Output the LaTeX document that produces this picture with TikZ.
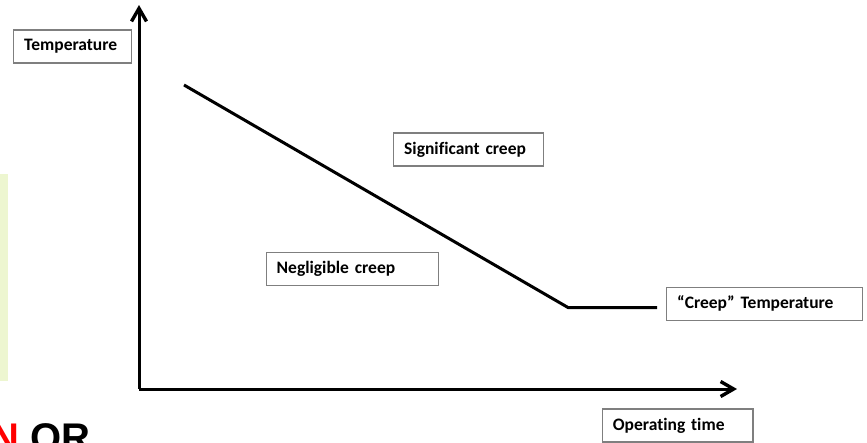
\documentclass[tikz,border=0pt]{standalone}
\usepackage{fontspec}
\setmainfont{Carlito}[Ligatures={NoCommon}]
\newfontfamily\arialfont{Liberation Sans}
\usetikzlibrary{arrows.meta}
\definecolor{boxgray}{RGB}{127,127,127}
\definecolor{palegreen}{RGB}{237,246,208}
\definecolor{titlered}{RGB}{255,0,0}
\begin{document}
\begin{tikzpicture}[x=1pt,y=-1pt,
  labelbox/.style={draw=boxgray, line width=1.4pt, fill=white, inner xsep=10.5pt, inner ysep=0pt,
    minimum height=33pt, align=left, font=\fontsize{17.5}{20}\selectfont\bfseries, anchor=west},
  axisline/.style={line width=3pt, -{Straight Barb[length=13pt, width=15pt, line width=3.4pt]}},
  curveline/.style={line width=3pt, line join=miter}]
\useasboundingbox (0,0) rectangle (867,442);
% pale green strip at left edge
\fill[palegreen] (0,174) rectangle (8,381);
% axes
\coordinate (origin) at (139,389);
\coordinate (ytip) at (139,5);
\coordinate (xtip) at (737,389);
\draw[axisline] (origin) -- (ytip);
\draw[axisline] (origin) -- (xtip);
% boundary line
\coordinate (l1) at (184,85);
\coordinate (l2) at (568,307.5);
\coordinate (l3) at (657,307.5);
\draw[curveline] (l1) -- (l2) -- (l3);
% labels
\node[labelbox, text width=97pt] (temp) at (13,46.5) {Temperature};
\node[labelbox, text width=129pt] (sig) at (393,149.5) {Significant creep};
\node[labelbox, text width=151pt] (neg) at (265.5,269.2) {Negligible creep};
\node[labelbox, text width=175pt] (ctemp) at (666,303.7) {“Creep” Temperature};
\node[labelbox, text width=129.5pt] (optime) at (601.7,425.6) {Operating time};
% cut-off title text at bottom left
\node[anchor=base west, inner sep=0pt, font=\arialfont\fontsize{40}{44}\selectfont\bfseries] (title) at (-10,451) {\textcolor{titlered}{N} OR};
\end{tikzpicture}
\end{document}
